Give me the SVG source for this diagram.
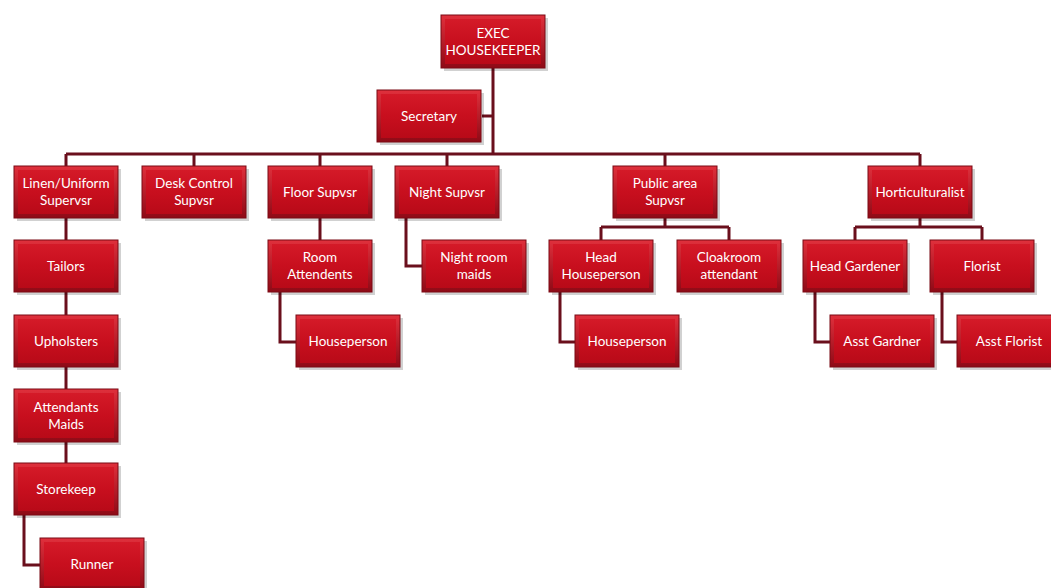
<svg xmlns="http://www.w3.org/2000/svg" width="1051" height="588" viewBox="0 0 1051 588">
<defs>
<linearGradient id="outer" x1="0" y1="0" x2="0" y2="1">
<stop offset="0" stop-color="#e0303c"/>
<stop offset="1" stop-color="#8e0a16"/>
</linearGradient>
<linearGradient id="face" x1="0" y1="0" x2="0" y2="1">
<stop offset="0" stop-color="#d41a28"/>
<stop offset="0.5" stop-color="#c80f1e"/>
<stop offset="1" stop-color="#b80a18"/>
</linearGradient>
</defs>
<style>
.sh{fill:#000;opacity:0.18}
.ol{fill:url(#outer);stroke:#7a0a14;stroke-width:1}
.fc{fill:url(#face)}
text{font-family:Lato,"Open Sans","Liberation Sans",sans-serif;font-size:13.5px;fill:#ffffff;text-anchor:middle}
.cn{fill:none;stroke:#6a0f1c;stroke-width:3}
</style>
<rect width="1051" height="588" fill="#ffffff"/>
<g id="connectors" class="cn">
<path d="M493 68V154M482 116H493"/>
<path d="M66 154H920"/>
<path d="M66 154V166M194 154V166M320 154V166M447 154V166M665 154V166M920 154V166"/>
<path d="M66 218V463"/>
<path d="M24 515V565H40"/>
<path d="M320 218V240"/>
<path d="M280 292V342H296"/>
<path d="M406 218V266H422"/>
<path d="M665 218V227M601 227H729M601 227V240M729 227V240"/>
<path d="M560 292V342H575"/>
<path d="M920 218V227M855 227H982M855 227V240M982 227V240"/>
<path d="M815 292V342H830"/>
<path d="M942 292V342H957"/>
</g>
<g id="exec"><rect class="sh" x="444" y="18" width="104" height="53"/><rect class="ol" x="441" y="15" width="104" height="53"/><rect class="fc" x="445" y="19" width="96" height="45"/><text x="493" y="38">EXEC</text><text x="493" y="55">HOUSEKEEPER</text></g>
<g id="secretary"><rect class="sh" x="380" y="93" width="104" height="52"/><rect class="ol" x="377" y="90" width="104" height="52"/><rect class="fc" x="381" y="94" width="96" height="44"/><text x="429" y="121">Secretary</text></g>
<g id="linen"><rect class="sh" x="17" y="169" width="104" height="52"/><rect class="ol" x="14" y="166" width="104" height="52"/><rect class="fc" x="18" y="170" width="96" height="44"/><text x="66" y="188">Linen/Uniform</text><text x="66" y="205">Supervsr</text></g>
<g id="desk"><rect class="sh" x="145" y="169" width="104" height="52"/><rect class="ol" x="142" y="166" width="104" height="52"/><rect class="fc" x="146" y="170" width="96" height="44"/><text x="194" y="188">Desk Control</text><text x="194" y="205">Supvsr</text></g>
<g id="floor"><rect class="sh" x="271" y="169" width="104" height="52"/><rect class="ol" x="268" y="166" width="104" height="52"/><rect class="fc" x="272" y="170" width="96" height="44"/><text x="320" y="197">Floor Supvsr</text></g>
<g id="night"><rect class="sh" x="398" y="169" width="104" height="52"/><rect class="ol" x="395" y="166" width="104" height="52"/><rect class="fc" x="399" y="170" width="96" height="44"/><text x="447" y="197">Night Supvsr</text></g>
<g id="public"><rect class="sh" x="616" y="169" width="104" height="52"/><rect class="ol" x="613" y="166" width="104" height="52"/><rect class="fc" x="617" y="170" width="96" height="44"/><text x="665" y="188">Public area</text><text x="665" y="205">Supvsr</text></g>
<g id="hort"><rect class="sh" x="871" y="169" width="104" height="52"/><rect class="ol" x="868" y="166" width="104" height="52"/><rect class="fc" x="872" y="170" width="96" height="44"/><text x="920" y="197">Horticulturalist</text></g>
<g id="tailors"><rect class="sh" x="17" y="243" width="104" height="52"/><rect class="ol" x="14" y="240" width="104" height="52"/><rect class="fc" x="18" y="244" width="96" height="44"/><text x="66" y="271">Tailors</text></g>
<g id="room"><rect class="sh" x="271" y="243" width="104" height="52"/><rect class="ol" x="268" y="240" width="104" height="52"/><rect class="fc" x="272" y="244" width="96" height="44"/><text x="320" y="262">Room</text><text x="320" y="279">Attendents</text></g>
<g id="nightmaids"><rect class="sh" x="425" y="243" width="104" height="52"/><rect class="ol" x="422" y="240" width="104" height="52"/><rect class="fc" x="426" y="244" width="96" height="44"/><text x="474" y="262">Night room</text><text x="474" y="279">maids</text></g>
<g id="headhouse"><rect class="sh" x="552" y="243" width="104" height="52"/><rect class="ol" x="549" y="240" width="104" height="52"/><rect class="fc" x="553" y="244" width="96" height="44"/><text x="601" y="262">Head</text><text x="601" y="279">Houseperson</text></g>
<g id="cloak"><rect class="sh" x="680" y="243" width="104" height="52"/><rect class="ol" x="677" y="240" width="104" height="52"/><rect class="fc" x="681" y="244" width="96" height="44"/><text x="729" y="262">Cloakroom</text><text x="729" y="279">attendant</text></g>
<g id="headgard"><rect class="sh" x="806" y="243" width="104" height="52"/><rect class="ol" x="803" y="240" width="104" height="52"/><rect class="fc" x="807" y="244" width="96" height="44"/><text x="855" y="271">Head Gardener</text></g>
<g id="florist"><rect class="sh" x="933" y="243" width="104" height="52"/><rect class="ol" x="930" y="240" width="104" height="52"/><rect class="fc" x="934" y="244" width="96" height="44"/><text x="982" y="271">Florist</text></g>
<g id="upholsters"><rect class="sh" x="17" y="318" width="104" height="52"/><rect class="ol" x="14" y="315" width="104" height="52"/><rect class="fc" x="18" y="319" width="96" height="44"/><text x="66" y="346">Upholsters</text></g>
<g id="houseperson1"><rect class="sh" x="299" y="318" width="104" height="52"/><rect class="ol" x="296" y="315" width="104" height="52"/><rect class="fc" x="300" y="319" width="96" height="44"/><text x="348" y="346">Houseperson</text></g>
<g id="houseperson2"><rect class="sh" x="578" y="318" width="104" height="52"/><rect class="ol" x="575" y="315" width="104" height="52"/><rect class="fc" x="579" y="319" width="96" height="44"/><text x="627" y="346">Houseperson</text></g>
<g id="asstgard"><rect class="sh" x="833" y="318" width="104" height="52"/><rect class="ol" x="830" y="315" width="104" height="52"/><rect class="fc" x="834" y="319" width="96" height="44"/><text x="882" y="346">Asst Gardner</text></g>
<g id="asstflorist"><rect class="sh" x="960" y="318" width="104" height="52"/><rect class="ol" x="957" y="315" width="104" height="52"/><rect class="fc" x="961" y="319" width="96" height="44"/><text x="1009" y="346">Asst Florist</text></g>
<g id="attmaids"><rect class="sh" x="17" y="392" width="104" height="53"/><rect class="ol" x="14" y="389" width="104" height="53"/><rect class="fc" x="18" y="393" width="96" height="45"/><text x="66" y="412">Attendants</text><text x="66" y="429">Maids</text></g>
<g id="storekeep"><rect class="sh" x="17" y="466" width="104" height="52"/><rect class="ol" x="14" y="463" width="104" height="52"/><rect class="fc" x="18" y="467" width="96" height="44"/><text x="66" y="494">Storekeep</text></g>
<g id="runner"><rect class="sh" x="43" y="541" width="104" height="52"/><rect class="ol" x="40" y="538" width="104" height="52"/><rect class="fc" x="44" y="542" width="96" height="44"/><text x="92" y="569">Runner</text></g>
</svg>
